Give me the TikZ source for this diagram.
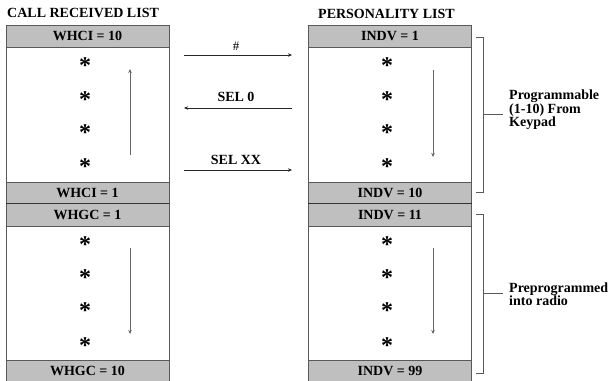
\documentclass[tikz,border=0pt]{standalone}
\usepackage{fontspec}
\setmainfont{Liberation Serif}
\usetikzlibrary{arrows.meta}
\begin{document}
\begin{tikzpicture}[x=1pt,y=-1pt,
  hdr/.style={draw=black!65, fill=black!25, minimum width=163pt, minimum height=22pt, inner sep=0pt, font=\bfseries\fontsize{14}{15}\selectfont},
  listbody/.style={draw=black!65, fill=white, minimum width=163pt, minimum height=135pt, inner sep=0pt},
  star/.style={font=\bfseries\fontsize{24}{24}\selectfont, inner sep=0pt},
  lbl/.style={font=\bfseries\fontsize{14}{14}\selectfont, inner sep=0pt},
  flow/.style={black!60, line width=0.7pt, -{Stealth[length=4pt,width=3.5pt]}}]
\useasboundingbox (0,0) rectangle (609,380);
% list titles
\node[lbl, anchor=west] (calltitle) at (7,13) {CALL RECEIVED LIST};
\node[lbl, anchor=west] (perstitle) at (318,14) {PERSONALITY LIST};
% call received list
\node[listbody] (whcibody) at (87.5,114.5) {};
\node[hdr] (whcitop) at (87.5,36) {WHCI = 10};
\node[hdr, minimum height=21pt] (whcibot) at (87.5,192.5) {WHCI = 1};
\node[listbody, minimum height=134pt] (whgcbody) at (87.5,293) {};
\node[hdr, minimum height=23pt] (whgctop) at (87.5,214.5) {WHGC = 1};
\node[hdr] (whgcbot) at (87.5,371) {WHGC = 10};
\draw[black!80, line width=0.9pt] (whcibot.south west) -- (whcibot.south east);
% personality list
\node[listbody] (indvbody) at (390,114.5) {};
\node[hdr] (indvtop) at (390,36) {INDV = 1};
\node[hdr, minimum height=21pt] (indvbot) at (390,192.5) {INDV = 10};
\node[listbody, minimum height=134pt] (presbody) at (390,293) {};
\node[hdr, minimum height=23pt] (prestop) at (390,214.5) {INDV = 11};
\node[hdr] (presbot) at (390,371) {INDV = 99};
\draw[black!80, line width=0.9pt] (indvbot.south west) -- (indvbot.south east);
% entries
\foreach \yy [count=\i] in {62,96,129,163}{
  \node[star] (cs\i) at (85,\yy+4) {*};
  \node[star] (ps\i) at (387,\yy+4) {*};
}
\foreach \yy [count=\i] in {241,274,307,342}{
  \node[star] (gs\i) at (85,\yy+4) {*};
  \node[star] (qs\i) at (387,\yy+4) {*};
}
% scan arrows
\coordinate (cup0) at (130,155); \coordinate (cup1) at (130,69);
\coordinate (gdn0) at (130,248); \coordinate (gdn1) at (130,334);
\coordinate (idn0) at (433,70);  \coordinate (idn1) at (433,157);
\coordinate (qdn0) at (433,248); \coordinate (qdn1) at (433,334);
\draw[flow] (cup0) -- (cup1);
\draw[flow] (gdn0) -- (gdn1);
\draw[flow] (idn0) -- (idn1);
\draw[flow] (qdn0) -- (qdn1);
% keys between lists
\coordinate (hashL) at (184,55);  \coordinate (hashR) at (292,55);
\coordinate (sel0L) at (184,108); \coordinate (sel0R) at (292,108);
\coordinate (selxL) at (184,170); \coordinate (selxR) at (292,170);
\draw[flow, black!85] (hashL) -- (hashR);
\draw[flow, black!85] (sel0R) -- (sel0L);
\draw[flow, black!85] (selxL) -- (selxR);
\node[font=\fontsize{13}{13}\selectfont, inner sep=0pt] (hashlbl) at (236,46) {\#};
\node[lbl] (sel0lbl) at (236,97) {SEL 0};
\node[lbl] (selxlbl) at (236,160) {SEL XX};
% brackets
\draw[black!65, line width=0.7pt] (476,37) -- (483,37) -- (483,192) -- (476,192);
\draw[black!65, line width=0.7pt] (483,114.5) -- (503,114.5);
\draw[black!65, line width=0.7pt] (476,214) -- (483,214) -- (483,373) -- (476,373);
\draw[black!65, line width=0.7pt] (483,293) -- (503,293);
\node[lbl, anchor=west, align=left, font=\bfseries\fontsize{14}{13.5}\selectfont] (proglbl) at (509,110) {Programmable\\(1-10) From\\Keypad};
\node[lbl, anchor=west, align=left, font=\bfseries\fontsize{14}{13.5}\selectfont] (prelbl) at (509,294) {Preprogrammed\\into radio};
\end{tikzpicture}
\end{document}
